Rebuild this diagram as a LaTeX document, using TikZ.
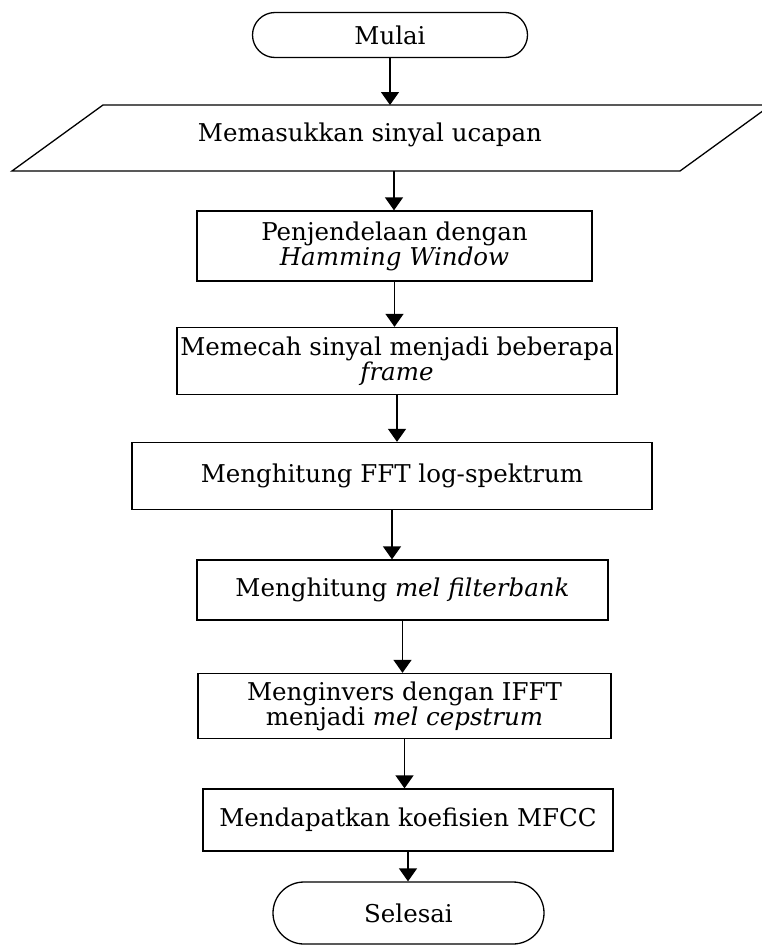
\documentclass[tikz,border=0pt]{standalone}
\usepackage{fontspec}
\setmainfont{DejaVu Serif}
\usetikzlibrary{arrows.meta,shapes.misc}
\begin{document}
\begin{tikzpicture}[x=1pt,y=-1pt,
  line width=1.3pt,
  every node/.style={font=\fontsize{24.5}{24}\selectfont, align=center, inner sep=0pt},
  procbox/.style={draw, rectangle},
  terminal/.style={draw, rounded rectangle},
  flow/.style={-{Triangle[width=18pt,length=13pt]}}
]
\useasboundingbox (0,0) rectangle (762,945);

% start terminal
\node[terminal, minimum width=275pt, minimum height=45pt] (start) at (390,35) {Mulai};

% input parallelogram
\node (inp) at (370,135) {Memasukkan sinyal ucapan};
\coordinate (ptl) at (103,105);
\coordinate (ptr) at (771,105);
\coordinate (pbr) at (680,171);
\coordinate (pbl) at (12,171);
\coordinate (ptop) at (390,105);
\coordinate (pbot) at (394,171);
\draw (ptl) -- (ptr) -- (pbr) -- (pbl) -- cycle;

% processing steps
\node[procbox, minimum width=395pt, minimum height=70pt] (b1) at (394.5,246)
  {Penjendelaan dengan\\\textit{Hamming Window}};
\node[procbox, minimum width=440pt, minimum height=67pt] (b2) at (397,361)
  {Memecah sinyal menjadi beberapa\\\textit{frame}};
\node[procbox, minimum width=520pt, minimum height=67pt] (b3) at (392,476)
  {Menghitung FFT log-spektrum};
\node[procbox, minimum width=411pt, minimum height=60pt] (b4) at (402.5,590)
  {Menghitung \textit{mel filterbank}};
\node[procbox, minimum width=413pt, minimum height=65pt] (b5) at (404.5,706)
  {Menginvers dengan IFFT\\menjadi \textit{mel cepstrum}};
\node[procbox, minimum width=410pt, minimum height=62pt] (b6) at (408,820)
  {Mendapatkan koefisien MFCC};

% end terminal
\node[terminal, minimum width=271pt, minimum height=62pt] (stop) at (408.5,913) {Selesai};

% connectors
\draw[flow] (start.south) -- (ptop);
\draw[flow] (pbot) -- (pbot |- b1.north);
\draw[flow] (b1.south) -- (b1.south |- b2.north);
\draw[flow] (b2.south) -- (b2.south |- b3.north);
\draw[flow] (b3.south) -- (b3.south |- b4.north);
\draw[flow] (b4.south) -- (b4.south |- b5.north);
\draw[flow] (b5.south) -- (b5.south |- b6.north);
\draw[flow] (b6.south) -- (b6.south |- stop.north);
\end{tikzpicture}
\end{document}
